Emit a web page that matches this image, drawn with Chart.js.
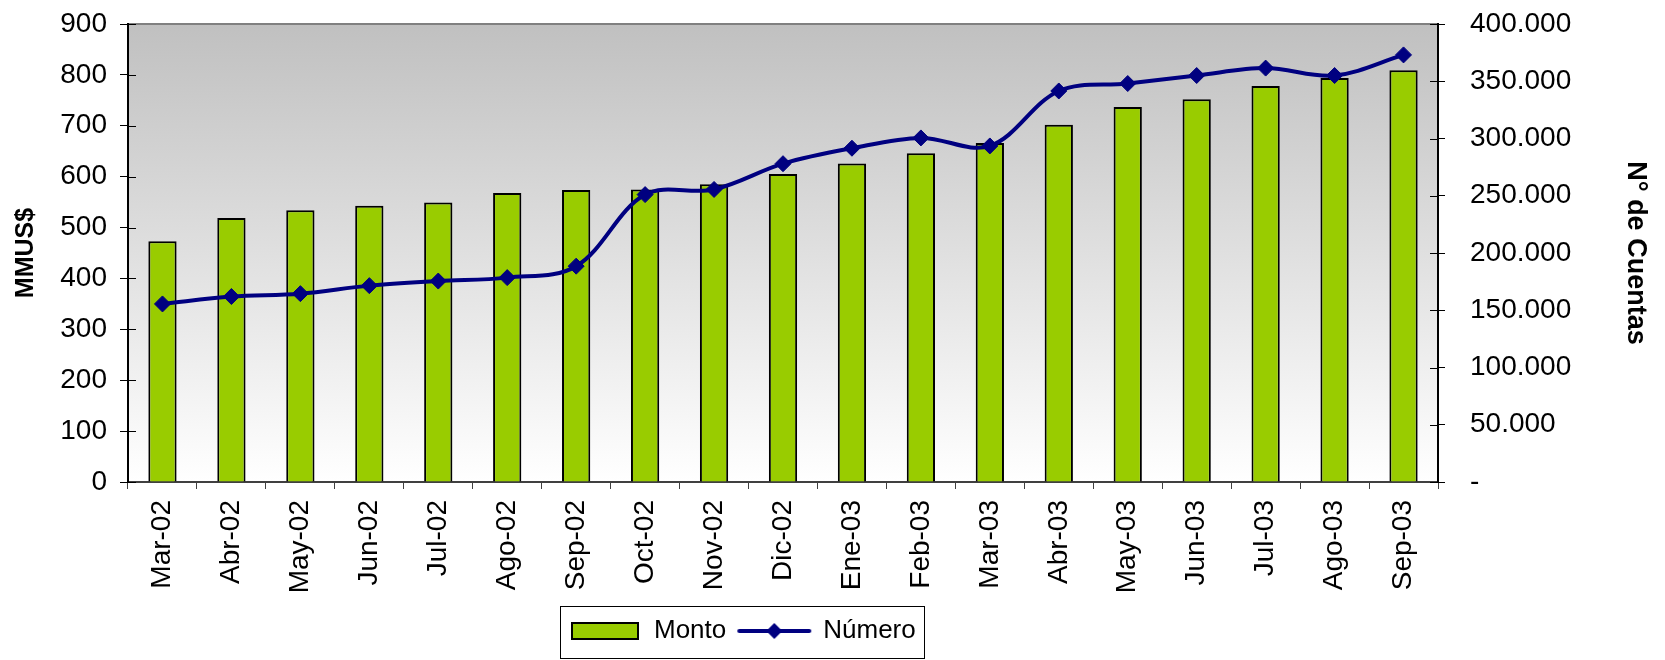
<!DOCTYPE html>
<html>
<head>
<meta charset="utf-8">
<script src="https://cdn.jsdelivr.net/npm/chart.js@4.4.0/dist/chart.umd.min.js"></script>
<style>
html,body{margin:0;padding:0;background:#fff}
#wrap{width:1665px;height:660px;position:relative}
</style>
</head>
<body>
<div id="wrap"><canvas id="c"></canvas></div>
<script>
const categories = ['Mar-02','Abr-02','May-02','Jun-02','Jul-02','Ago-02','Sep-02','Oct-02','Nov-02','Dic-02','Ene-03','Feb-03','Mar-03','Abr-03','May-03','Jun-03','Jul-03','Ago-03','Sep-03'];
const montoValues = [473, 519, 534, 543, 549, 568, 574, 575, 585, 605, 626, 646, 666, 702, 737, 752, 778, 794, 809];
const numeroValues = [155500, 162000, 164500, 171500, 175500, 178500, 188500, 251000, 255500, 278000, 291500, 300500, 293500, 341500, 348000, 355000, 361500, 355000, 373000];
const leftTickValues = [0, 100, 200, 300, 400, 500, 600, 700, 800, 900];
const rightTickValues = [0, 50000, 100000, 150000, 200000, 250000, 300000, 350000, 400000];
const seriesLabels = ['Monto', 'Número'];
const axisTitles = ['MMUS$', 'N° de Cuentas'];

const FONT = '"Liberation Sans", Arial, sans-serif';
const GREEN = '#99CC00';
const NAVY = '#000080';

function fmtThousands(v) {
  if (v === 0) return '-';
  return String(v).replace(/\B(?=(\d{3})+(?!\d))/g, '.');
}

function barSwatch() {
  const c = document.createElement('canvas');
  c.width = 68; c.height = 18;
  const g = c.getContext('2d');
  g.fillStyle = GREEN; g.fillRect(1, 1, 66, 16);
  g.strokeStyle = '#000'; g.lineWidth = 2; g.strokeRect(1, 1, 66, 16);
  return c;
}
function lineSwatch() {
  const c = document.createElement('canvas');
  c.width = 76; c.height = 20;
  const g = c.getContext('2d');
  g.strokeStyle = NAVY; g.lineWidth = 4; g.lineCap = 'round';
  g.beginPath(); g.moveTo(3, 10); g.lineTo(73, 10); g.stroke();
  g.fillStyle = NAVY;
  g.beginPath(); g.moveTo(38, 2); g.lineTo(46, 10); g.lineTo(38, 18); g.lineTo(30, 10); g.closePath(); g.fill();
  return c;
}
const swatches = [barSwatch(), lineSwatch()];

const decorPlugin = {
  id: 'decor',
  afterLayout(chart) {
    const lg = chart.legend;
    if (lg) { lg.left = 557; }
  },
  beforeDraw(chart) {
    const {ctx, chartArea: a} = chart;
    ctx.save();
    ctx.fillStyle = '#fff';
    ctx.fillRect(0, 0, chart.width, chart.height);
    const grad = ctx.createLinearGradient(0, a.top, 0, a.bottom);
    grad.addColorStop(0, '#C0C0C0');
    grad.addColorStop(1, '#FFFFFF');
    ctx.fillStyle = grad;
    ctx.fillRect(a.left, a.top, a.right - a.left, a.bottom - a.top);
    ctx.strokeStyle = '#808080';
    ctx.lineWidth = 2;
    ctx.beginPath(); ctx.moveTo(a.left, a.top); ctx.lineTo(a.right, a.top); ctx.stroke();
    ctx.restore();
  },
  afterDraw(chart) {
    const {ctx, chartArea: a, scales} = chart;
    ctx.save();
    ctx.strokeStyle = '#000';
    ctx.lineWidth = 1;
    scales.y.ticks.forEach(t => {
      const y = Math.round(scales.y.getPixelForValue(t.value)) + 0.5;
      ctx.beginPath(); ctx.moveTo(a.left, y); ctx.lineTo(a.left + 8, y); ctx.stroke();
    });
    scales.y1.ticks.forEach(t => {
      const y = Math.round(scales.y1.getPixelForValue(t.value)) + 0.5;
      ctx.beginPath(); ctx.moveTo(a.right - 8, y); ctx.lineTo(a.right, y); ctx.stroke();
    });
    const lg = chart.legend;
    if (lg && lg.lineWidths) {
      const x0 = lg.left + 3;
      const x1 = lg.left + lg.lineWidths[0] + 8;
      ctx.strokeStyle = '#000';
      ctx.strokeRect(Math.round(x0) + 0.5, Math.round(lg.top) + 0.5, Math.round(x1 - x0), 52);
    }
    ctx.restore();
  }
};

new Chart(document.getElementById('c'), {
  data: {
    labels: categories,
    datasets: [
      {
        type: 'bar',
        label: seriesLabels[0],
        data: montoValues,
        yAxisID: 'y',
        backgroundColor: GREEN,
        borderColor: '#000',
        borderWidth: 2,
        barPercentage: 0.41,
        categoryPercentage: 1,
        order: 2
      },
      {
        type: 'line',
        label: seriesLabels[1],
        data: numeroValues,
        yAxisID: 'y1',
        borderColor: NAVY,
        backgroundColor: NAVY,
        borderWidth: 4,
        tension: 0.35,
        pointStyle: 'rectRot',
        pointRadius: 8,
        pointBorderWidth: 1,
        pointBackgroundColor: NAVY,
        pointBorderColor: NAVY,
        fill: false,
        order: 1
      }
    ]
  },
  options: {
    responsive: true,
    maintainAspectRatio: false,
    animation: false,
    layout: { padding: { top: 24, bottom: 6, left: 0, right: 0 } },
    plugins: {
      tooltip: { enabled: false },
      legend: {
        display: true,
        position: 'bottom',
        align: 'start',
        labels: {
          usePointStyle: true,
          pointStyleWidth: 72,
          padding: 12,
          color: '#000',
          font: { family: FONT, size: 26 },
          generateLabels(chart) {
            return chart.data.datasets.map((ds, i) => ({
              text: ds.label,
              pointStyle: swatches[i],
              datasetIndex: i,
              hidden: false,
              lineWidth: 0,
              fillStyle: 'transparent',
              strokeStyle: 'transparent',
              fontColor: '#000'
            }));
          }
        }
      }
    },
    scales: {
      x: {
        type: 'category',
        offset: true,
        grid: { offset: true, drawOnChartArea: false, drawTicks: true, tickLength: 7, color: '#404040', lineWidth: 1 },
        border: { display: true, color: '#404040', width: 2 },
        ticks: {
          autoSkip: false, maxRotation: 90, minRotation: 90, padding: 11,
          color: '#000', font: { family: FONT, size: 28 }
        },
        afterFit(s) { s.height = 124; }
      },
      y: {
        type: 'linear',
        position: 'left',
        min: 0, max: 900,
        afterBuildTicks(s) { s.ticks = leftTickValues.map(v => ({ value: v })); },
        grid: { drawOnChartArea: false, drawTicks: true, tickLength: 8, color: '#000', lineWidth: 1 },
        border: { display: true, color: '#000', width: 2 },
        ticks: { padding: 13, color: '#000', font: { family: FONT, size: 28 } },
        title: { display: true, text: axisTitles[0], color: '#000', font: { family: FONT, size: 25, weight: 'bold' }, padding: { top: 11, bottom: 0 } },
        afterFit(s) { s.width = 128; s.paddingTop = 0; s.paddingBottom = 0; }
      },
      y1: {
        type: 'linear',
        position: 'right',
        min: 0, max: 400000,
        afterBuildTicks(s) { s.ticks = rightTickValues.map(v => ({ value: v })); },
        grid: { drawOnChartArea: false, drawTicks: true, tickLength: 7, color: '#000', lineWidth: 1 },
        border: { display: true, color: '#000', width: 2 },
        ticks: { padding: 25, color: '#000', font: { family: FONT, size: 28 }, callback: v => fmtThousands(v) },
        title: { display: true, text: axisTitles[1], color: '#000', font: { family: FONT, size: 27, weight: 'bold' }, padding: { top: 13, bottom: 0 } },
        afterFit(s) { s.width = 227; s.paddingTop = 0; s.paddingBottom = 0; }
      }
    }
  },
  plugins: [decorPlugin]
});
</script>
</body>
</html>
